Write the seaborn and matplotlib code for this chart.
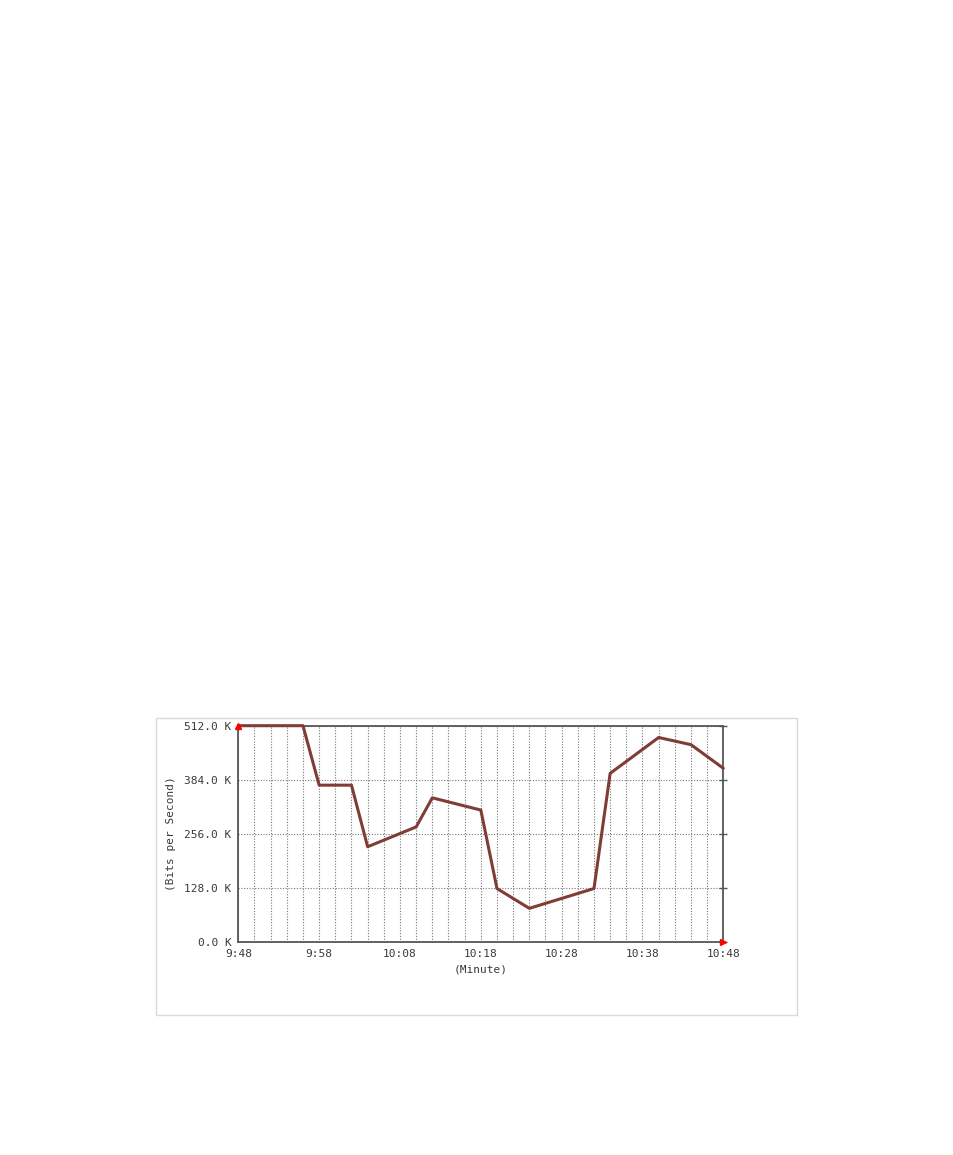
import pandas as pd
import matplotlib
matplotlib.use("Agg")
import matplotlib.pyplot as plt
import matplotlib.patches as patches
import seaborn as sns

# Datos (minutos desde 9:48, kbit/s)
minutos = [0, 8, 10, 14, 16, 22, 24, 30, 32, 36, 44, 46, 52, 56, 60]
valores = [512, 512, 371, 371, 225, 272, 341, 312, 126, 79, 126, 399, 484, 467, 411]

ticks_x = [0, 10, 20, 30, 40, 50, 60]
etiquetas_x = ['9:48', '9:58', '10:08', '10:18', '10:28', '10:38', '10:48']
ticks_y = [0, 128, 256, 384, 512]
etiquetas_y = ['0.0 K', '128.0 K', '256.0 K', '384.0 K', '512.0 K']

df = pd.DataFrame({'Minuto': minutos, 'Valor': valores})

sns.set_style('white')
plt.rcParams['font.family'] = ['DejaVu Sans Mono', 'DejaVu Sans']

fig = plt.figure(figsize=(9.54, 11.55), dpi=100)

# marco exterior gris claro
marco = patches.Rectangle((0.1635, 0.1212), 0.672, 0.2571, transform=fig.transFigure,
                          fill=False, edgecolor='#d9d9d9', linewidth=1.0)
fig.patches.append(marco)

ax = fig.add_axes([0.2498, 0.1847, 0.5084, 0.187])

sns.lineplot(x='Minuto', y='Valor', data=df, ax=ax, color='#7f3d36', linewidth=2.2)
for linea in ax.lines:
    linea.set_clip_on(False)
    linea.set_zorder(5)

ax.set_xlim(0, 60)
ax.set_ylim(0, 512)

ax.set_xticks(ticks_x)
ax.set_xticklabels(etiquetas_x, fontsize=8, color='#3a3a3a')
ax.set_xticks(range(0, 61, 2), minor=True)
ax.set_yticks(ticks_y)
ax.set_yticklabels(etiquetas_y, fontsize=8, color='#3a3a3a')

ax.grid(which='major', axis='y', linestyle=(0, (1, 1.5)), color='#777777', linewidth=0.8)
ax.grid(which='both', axis='x', linestyle=(0, (1, 1.5)), color='#777777', linewidth=0.8)

ax.tick_params(axis='x', which='major', direction='inout', length=6, width=1, color='#555555', pad=2)
ax.tick_params(axis='x', which='minor', direction='inout', length=3, width=1, color='#555555')
ax.tick_params(axis='y', which='major', direction='inout', length=6, width=1, color='#555555',
               right=True, pad=2)

for lado in ax.spines.values():
    lado.set_color('#555555')
    lado.set_linewidth(1.3)

ax.set_xlabel('(Minute)', fontsize=8, color='#3a3a3a', labelpad=4)
ax.set_ylabel('(Bits per Second)', fontsize=8, color='#3a3a3a', labelpad=6)

# flechas rojas al estilo rrdtool
ax.plot([0], [1], marker='^', color='red', markersize=4, transform=ax.transAxes, clip_on=False, zorder=6)
ax.plot([1], [0], marker='>', color='red', markersize=4, transform=ax.transAxes, clip_on=False, zorder=6)

plt.savefig('out.png', dpi=100)
